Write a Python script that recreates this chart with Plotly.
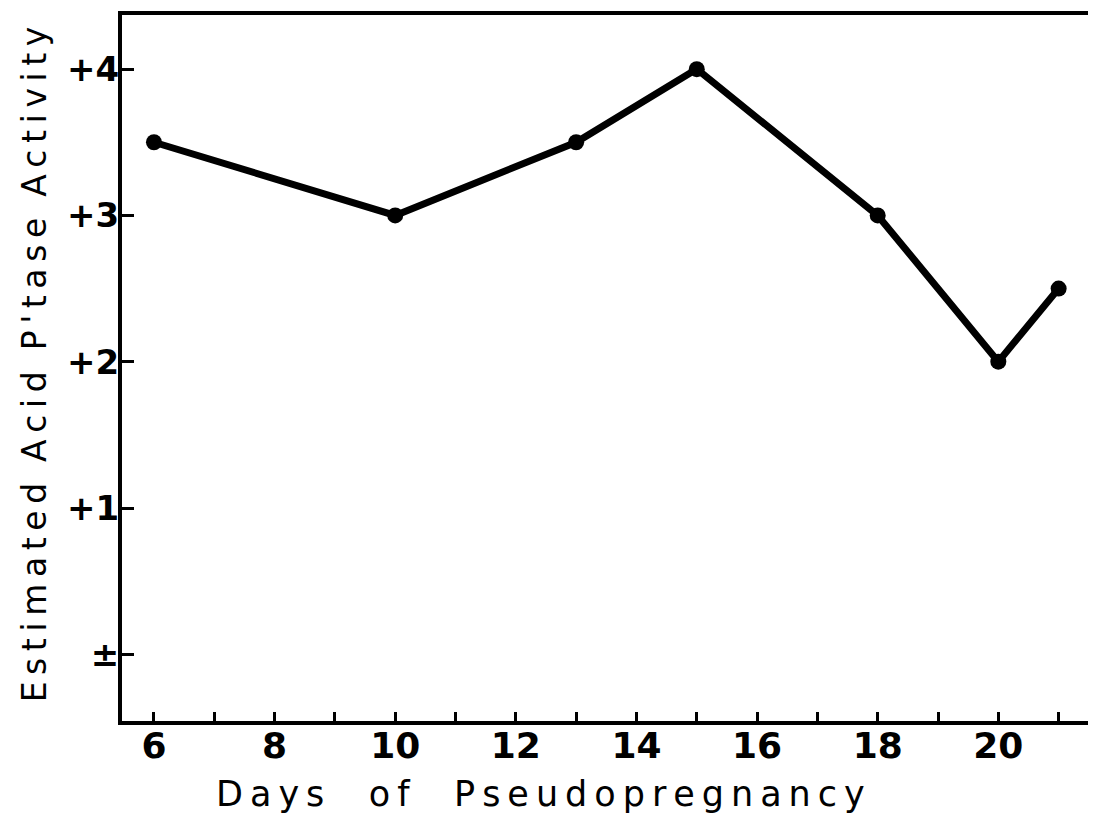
import plotly.graph_objects as go

# Tage der Pseudogravidität und geschätzte Aktivität
days = [6, 10, 13, 15, 18, 20, 21]
activity = [3.5, 3.0, 3.5, 4.0, 3.0, 2.0, 2.5]

y_tickvals = [0, 1, 2, 3, 4]
y_ticktext = ["±", "+1", "+2", "+3", "+4"]
x_tickvals = [6, 8, 10, 12, 14, 16, 18, 20]

x_title = "Days of Pseudopregnancy"
y_title = "Estimated Acid P'tase Activity"

FONT = "DejaVu Sans"


def spaced(text, gap="\u2009", word_gap="\u00a0" * 3):
    # Sperrsatz nachbilden: dünne Leerzeichen zwischen den Buchstaben
    return word_gap.join(gap.join(w) for w in text.split(" "))


fig = go.Figure()

fig.add_trace(go.Scatter(
    x=days, y=activity, mode="lines+markers",
    line=dict(color="black", width=7),
    marker=dict(color="black", size=16),
    showlegend=False, hoverinfo="skip",
))

fig.add_annotation(
    text=spaced(x_title, word_gap="\u00a0" * 4), xref="paper", yref="paper",
    x=(532 - 114) / (1096 - 114 - 14), y=-0.103,
    xanchor="center", yanchor="middle", showarrow=False,
    font=dict(size=35, family=FONT, color="black"),
)
fig.add_annotation(
    text=spaced(y_title, word_gap="\u00a0" * 2), xref="paper", yref="paper",
    x=-0.09, y=0.505, textangle=-90,
    xanchor="center", yanchor="middle", showarrow=False,
    font=dict(size=33, family=FONT, color="black"),
)

fig.update_layout(
    width=1096, height=824,
    plot_bgcolor="white", paper_bgcolor="white",
    margin=dict(l=114, r=14, t=3, b=111),
    font=dict(family=FONT, color="black"),
    xaxis=dict(
        range=[5.47, 21.52],
        tickvals=x_tickvals,
        ticks="inside", ticklen=9, tickwidth=3, tickcolor="black",
        minor=dict(ticks="inside", dtick=1, tick0=0, ticklen=9,
                   tickwidth=3, tickcolor="black"),
        showline=True, linewidth=4, linecolor="black", mirror=True,
        showgrid=False, zeroline=False,
        ticklabelstandoff=-10,
        tickfont=dict(size=36, family=FONT, weight="bold"),
    ),
    yaxis=dict(
        range=[-0.456, 4.37],
        tickvals=y_tickvals, ticktext=y_ticktext,
        ticks="inside", ticklen=12, tickwidth=3, tickcolor="black",
        showline=True, linewidth=4, linecolor="black", mirror=True,
        showgrid=False, zeroline=False,
        ticklabelstandoff=-8,
        tickfont=dict(size=34, family=FONT, weight="bold"),
    ),
)

fig.write_html("out.html")
